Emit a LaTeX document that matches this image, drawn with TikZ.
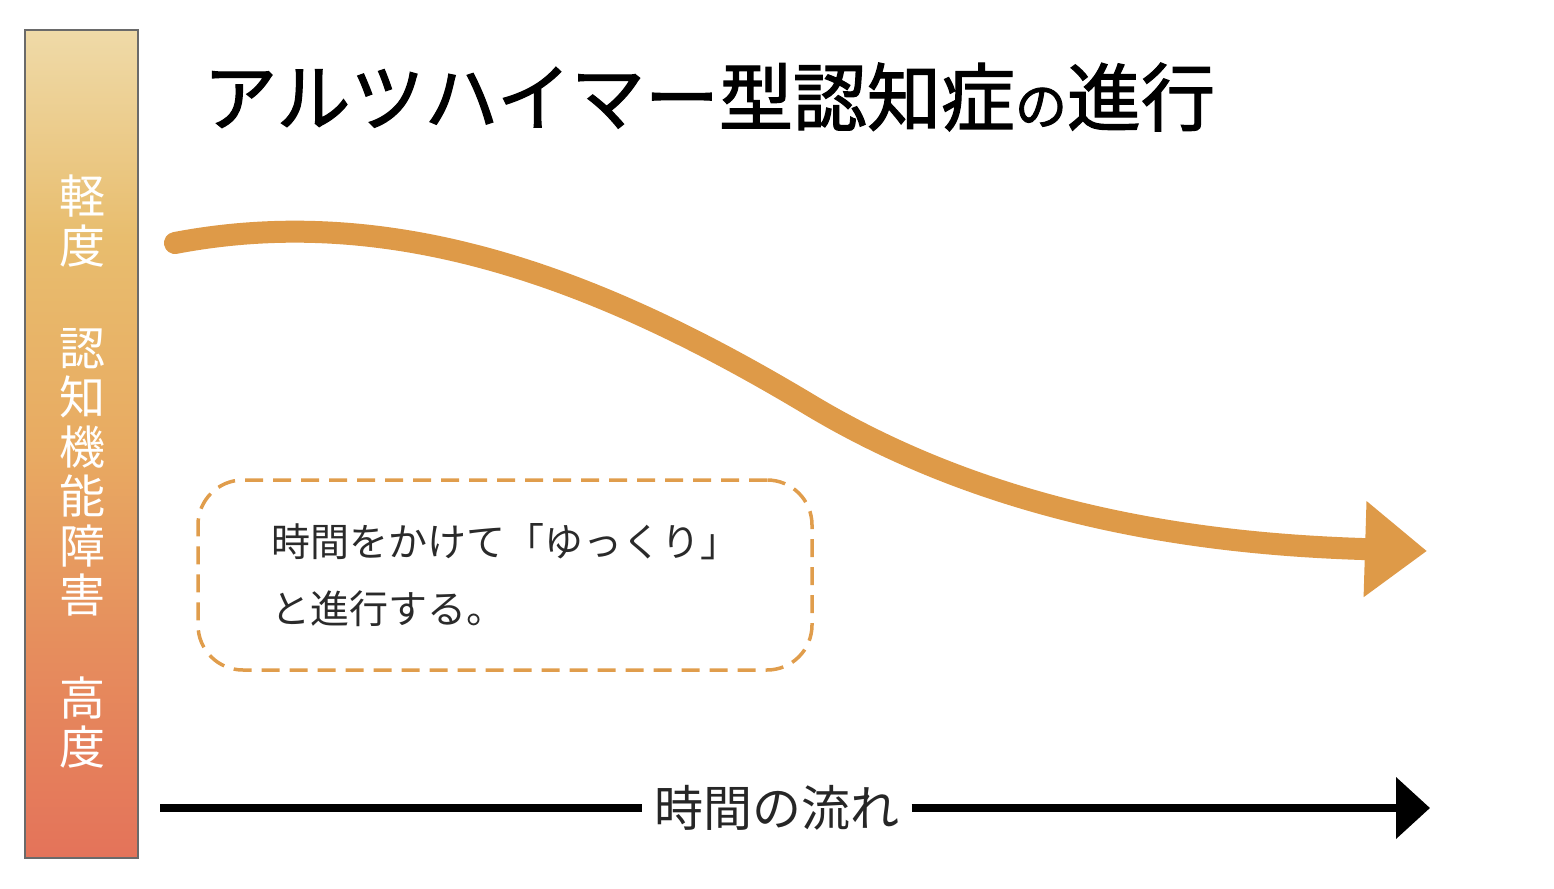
\documentclass[tikz,border=0pt]{standalone}
\usepackage{fontspec}
\setmainfont{Noto Sans CJK JP}
\newfontfamily\titlefont{Noto Sans CJK JP}[FakeBold=1.6]
\usetikzlibrary{arrows.meta}
\definecolor{curveorange}{HTML}{DE9A48}
\definecolor{boxorange}{HTML}{E09D4C}
\definecolor{barborder}{HTML}{6A6A6A}
\definecolor{boxtext}{HTML}{2A2A2A}
\definecolor{cbzero}{HTML}{E4735A}
\definecolor{cbone}{HTML}{E68D5D}
\definecolor{cbtwo}{HTML}{E8AB62}
\definecolor{cbthree}{HTML}{E8BD6E}
\definecolor{cbfour}{HTML}{EFDAA8}
\pgfdeclareverticalshading{barshade}{100bp}{color(0bp)=(cbzero); color(25bp)=(cbzero); color(37.5bp)=(cbone); color(50bp)=(cbtwo); color(62.5bp)=(cbthree); color(75bp)=(cbfour); color(100bp)=(cbfour)}
\tikzset{
  barnode/.style={draw=barborder, line width=2pt, shade, shading=barshade, minimum width=113pt, minimum height=828pt, inner sep=0pt},
  bartext/.style={text=white, font=\fontsize{46}{49.5}\selectfont, align=center, inner sep=0pt},
  titletext/.style={anchor=west, font=\titlefont\fontsize{74}{74}\selectfont, inner sep=0pt},
  curvearrow/.style={draw=curveorange, line width=22pt, line cap=round, -{Triangle[length=62pt,width=92pt]}},
  notebox/.style={draw=boxorange, line width=3.5pt, dash pattern=on 18pt off 10pt, rounded corners=45pt, minimum width=614pt, minimum height=190pt, align=left, text=boxtext, font=\fontsize{39}{67}\selectfont},
  flowtext/.style={font=\fontsize{49}{49}\selectfont, text=black!85, inner xsep=12pt, inner ysep=0pt},
  timeline/.style={draw=black, line width=8pt}
}
\begin{document}
\begin{tikzpicture}[x=1pt,y=-1pt]
\useasboundingbox (0,0) rectangle (1554,888);
\node[barnode] (bar) at (81.5,444) {};
\node[bartext] (mild) at (82,221) {軽\\度};
\node[bartext] (cog) at (82,472.5) {認\\知\\機\\能\\障\\害};
\node[bartext] (severe) at (82,722.5) {高\\度};
\node[titletext] (title) at (203,97) {アルツハイマー型認知症{\fontsize{52}{52}\selectfont の}進行};
\coordinate (cs) at (175,243);
\coordinate (ce) at (1427,551);
\draw[curvearrow] (cs) .. controls (400,200) and (610,285) .. (810,405) .. controls (1010,525) and (1230,545) .. (ce);
\node[notebox] (note) at (505,575) {時間をかけて「ゆっくり」\\と進行する。};
\node[flowtext] (flow) at (777,808) {時間の流れ};
\coordinate (ts) at (160,808);
\coordinate (te) at (1430,808);
\draw[timeline] (ts) -- (flow.west);
\draw[timeline, -{Triangle[length=34pt,width=60pt]}] (flow.east) -- (te);
\end{tikzpicture}
\end{document}
